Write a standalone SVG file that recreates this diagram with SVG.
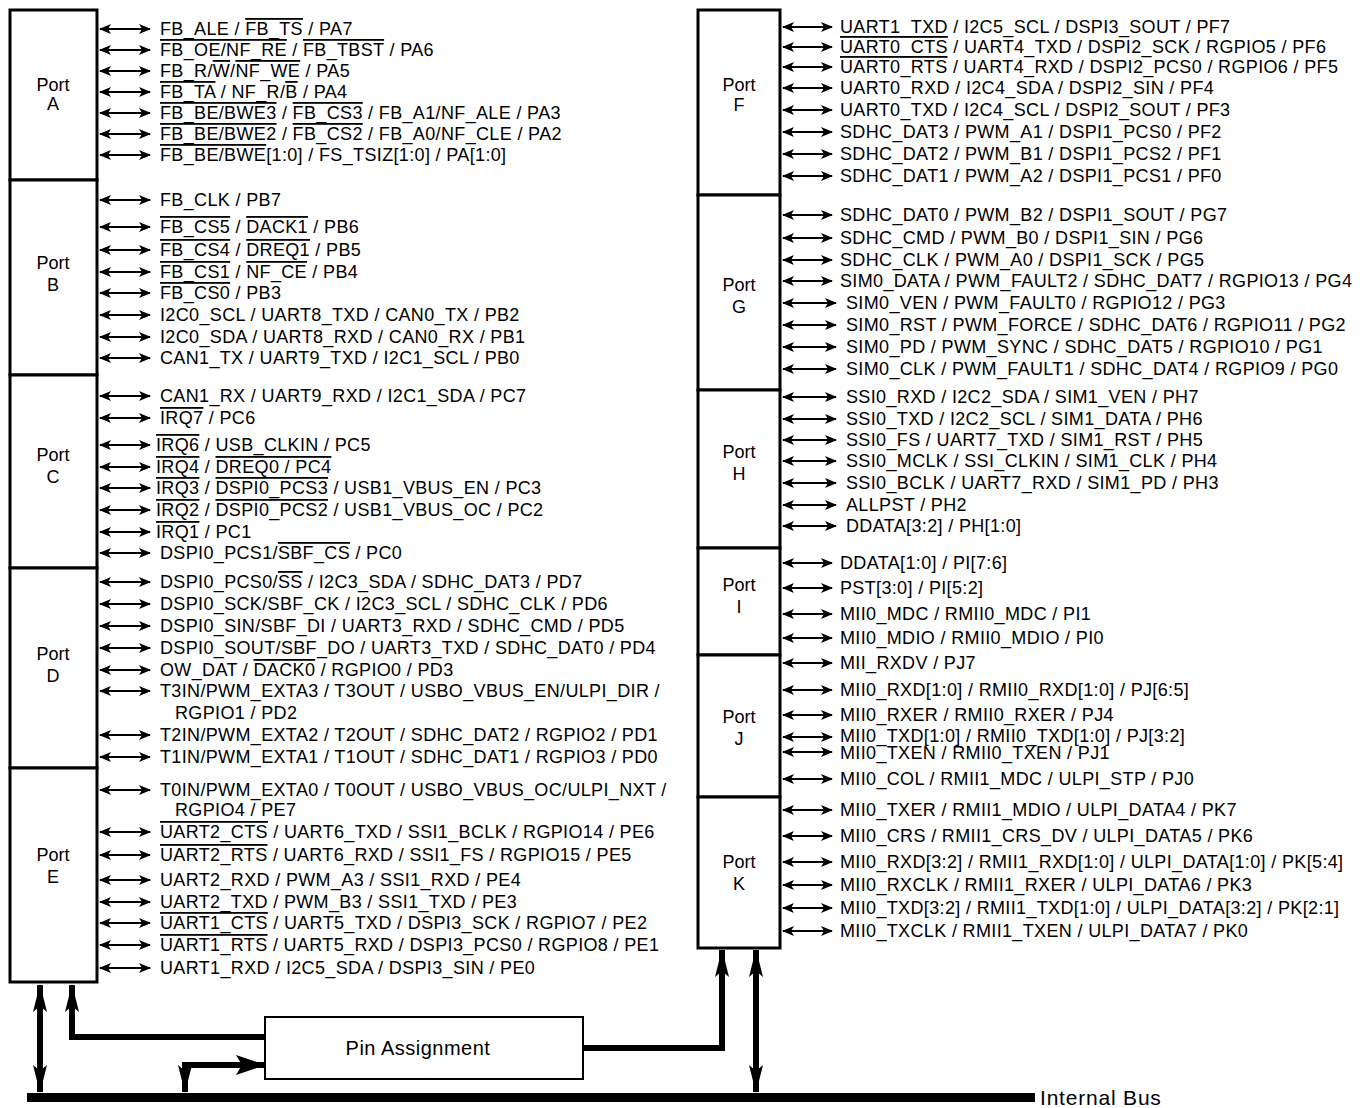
<svg xmlns="http://www.w3.org/2000/svg" width="1360" height="1108" viewBox="0 0 1360 1108">
<style>
text{font-family:"Liberation Sans",Arial,Helvetica,sans-serif;fill:#000}
.t{font-size:18px;letter-spacing:0.35px}
.lb{font-size:18px;text-anchor:middle}
.ov{text-decoration:overline}
.box{fill:#fff;stroke:#000;stroke-width:3}
.pa{stroke:#000;stroke-width:2;fill:none;marker-start:url(#sh);marker-end:url(#sh)}
.big{stroke:#000;stroke-width:6;fill:none}
</style>
<defs>
<marker id="sh" viewBox="0 0 12 10" refX="11" refY="5" markerWidth="12" markerHeight="10" markerUnits="userSpaceOnUse" orient="auto-start-reverse">
<path d="M0,0 L12,5 L0,10 L3,5 Z" fill="#000"/>
</marker>
<marker id="bh" viewBox="0 0 28 14" refX="27" refY="7" markerWidth="28" markerHeight="14" markerUnits="userSpaceOnUse" orient="auto-start-reverse">
<path d="M0,0 L28,7 L0,14 L6,7 Z" fill="#000"/>
</marker>
<marker id="rh" viewBox="0 0 30 20" refX="29" refY="10" markerWidth="30" markerHeight="20" markerUnits="userSpaceOnUse" orient="auto">
<path d="M0,0 L30,10 L0,20 L6,10 Z" fill="#000"/>
</marker>
</defs>
<rect width="1360" height="1108" fill="#fff"/>

<g id="connectors">
<!-- Port A -->
<line class="pa" x1="100" y1="29" x2="150" y2="29"/>
<line class="pa" x1="100" y1="50" x2="150" y2="50"/>
<line class="pa" x1="100" y1="71" x2="150" y2="71"/>
<line class="pa" x1="100" y1="92" x2="150" y2="92"/>
<line class="pa" x1="100" y1="113" x2="150" y2="113"/>
<line class="pa" x1="100" y1="134" x2="150" y2="134"/>
<line class="pa" x1="100" y1="155" x2="150" y2="155"/>
<!-- Port B -->
<line class="pa" x1="100" y1="200" x2="150" y2="200"/>
<line class="pa" x1="100" y1="227" x2="150" y2="227"/>
<line class="pa" x1="100" y1="250" x2="150" y2="250"/>
<line class="pa" x1="100" y1="272" x2="150" y2="272"/>
<line class="pa" x1="100" y1="293" x2="150" y2="293"/>
<line class="pa" x1="100" y1="315" x2="150" y2="315"/>
<line class="pa" x1="100" y1="337" x2="150" y2="337"/>
<line class="pa" x1="100" y1="358" x2="150" y2="358"/>
<!-- Port C -->
<line class="pa" x1="100" y1="396" x2="150" y2="396"/>
<line class="pa" x1="100" y1="418" x2="150" y2="418"/>
<line class="pa" x1="100" y1="445" x2="150" y2="445"/>
<line class="pa" x1="100" y1="467" x2="150" y2="467"/>
<line class="pa" x1="100" y1="488" x2="150" y2="488"/>
<line class="pa" x1="100" y1="510" x2="150" y2="510"/>
<line class="pa" x1="100" y1="532" x2="150" y2="532"/>
<line class="pa" x1="100" y1="553" x2="150" y2="553"/>
<!-- Port D -->
<line class="pa" x1="100" y1="582" x2="150" y2="582"/>
<line class="pa" x1="100" y1="604" x2="150" y2="604"/>
<line class="pa" x1="100" y1="626" x2="150" y2="626"/>
<line class="pa" x1="100" y1="648" x2="150" y2="648"/>
<line class="pa" x1="100" y1="670" x2="150" y2="670"/>
<line class="pa" x1="100" y1="691" x2="150" y2="691"/>
<line class="pa" x1="100" y1="735" x2="150" y2="735"/>
<line class="pa" x1="100" y1="757" x2="150" y2="757"/>
<!-- Port E -->
<line class="pa" x1="100" y1="790" x2="150" y2="790"/>
<line class="pa" x1="100" y1="832" x2="150" y2="832"/>
<line class="pa" x1="100" y1="855" x2="150" y2="855"/>
<line class="pa" x1="100" y1="880" x2="150" y2="880"/>
<line class="pa" x1="100" y1="902" x2="150" y2="902"/>
<line class="pa" x1="100" y1="923" x2="150" y2="923"/>
<line class="pa" x1="100" y1="945" x2="150" y2="945"/>
<line class="pa" x1="100" y1="968" x2="150" y2="968"/>
<!-- Port F -->
<line class="pa" x1="783" y1="27" x2="832" y2="27"/>
<line class="pa" x1="783" y1="47" x2="832" y2="47"/>
<line class="pa" x1="783" y1="67" x2="832" y2="67"/>
<line class="pa" x1="783" y1="88" x2="832" y2="88"/>
<line class="pa" x1="783" y1="110" x2="832" y2="110"/>
<line class="pa" x1="783" y1="132" x2="832" y2="132"/>
<line class="pa" x1="783" y1="154" x2="832" y2="154"/>
<line class="pa" x1="783" y1="176" x2="832" y2="176"/>
<!-- Port G -->
<line class="pa" x1="783" y1="215" x2="832" y2="215"/>
<line class="pa" x1="783" y1="238" x2="832" y2="238"/>
<line class="pa" x1="783" y1="260" x2="832" y2="260"/>
<line class="pa" x1="783" y1="281" x2="832" y2="281"/>
<line class="pa" x1="783" y1="303" x2="836" y2="303"/>
<line class="pa" x1="783" y1="325" x2="836" y2="325"/>
<line class="pa" x1="783" y1="347" x2="836" y2="347"/>
<line class="pa" x1="783" y1="369" x2="836" y2="369"/>
<!-- Port H -->
<line class="pa" x1="783" y1="397" x2="836" y2="397"/>
<line class="pa" x1="783" y1="419" x2="836" y2="419"/>
<line class="pa" x1="783" y1="440" x2="836" y2="440"/>
<line class="pa" x1="783" y1="461" x2="836" y2="461"/>
<line class="pa" x1="783" y1="483" x2="836" y2="483"/>
<line class="pa" x1="783" y1="505" x2="836" y2="505"/>
<line class="pa" x1="783" y1="526" x2="836" y2="526"/>
<!-- Port I -->
<line class="pa" x1="783" y1="563" x2="832" y2="563"/>
<line class="pa" x1="783" y1="588" x2="832" y2="588"/>
<line class="pa" x1="783" y1="614" x2="832" y2="614"/>
<line class="pa" x1="783" y1="638" x2="832" y2="638"/>
<!-- Port J -->
<line class="pa" x1="783" y1="663" x2="832" y2="663"/>
<line class="pa" x1="783" y1="690" x2="832" y2="690"/>
<line class="pa" x1="783" y1="715" x2="832" y2="715"/>
<line class="pa" x1="783" y1="737" x2="832" y2="737"/>
<line class="pa" x1="783" y1="752" x2="832" y2="752"/>
<line class="pa" x1="783" y1="779" x2="832" y2="779"/>
<!-- Port K -->
<line class="pa" x1="783" y1="810" x2="832" y2="810"/>
<line class="pa" x1="783" y1="836" x2="832" y2="836"/>
<line class="pa" x1="783" y1="862" x2="832" y2="862"/>
<line class="pa" x1="783" y1="885" x2="832" y2="885"/>
<line class="pa" x1="783" y1="908" x2="832" y2="908"/>
<line class="pa" x1="783" y1="931" x2="832" y2="931"/>

<!-- bus connections -->
<line class="big" x1="40" y1="985" x2="40" y2="1092" marker-start="url(#bh)" marker-end="url(#bh)"/>
<polyline class="big" points="265,1037 72,1037 72,985" marker-end="url(#bh)"/>
<polyline class="big" points="185,1092 185,1065 265,1065" marker-start="url(#bh)" marker-end="url(#rh)"/>
<polyline class="big" points="584,1048 722,1048 722,950" marker-end="url(#bh)"/>
<line class="big" x1="756" y1="950" x2="756" y2="1092" marker-start="url(#bh)" marker-end="url(#bh)"/>
</g>

<g id="internal-bus">
<rect x="27" y="1093" width="1008" height="9" fill="#000"/>
<text x="1040" y="1105" style="font-size:21px;letter-spacing:0.8px">Internal Bus</text>
</g>

<g id="pin-assignment">
<rect x="265" y="1017" width="318" height="62" fill="#fff" stroke="#000" stroke-width="2"/>
<text class="lb" x="418" y="1055" style="font-size:20px;letter-spacing:0.5px">Pin Assignment</text>
</g>

<g id="port-a">
<rect class="box" x="10" y="10" width="87" height="170"/>
<text class="lb" x="53" y="91">Port</text>
<text class="lb" x="53" y="110">A</text>
<text class="t" x="160" y="35">FB_ALE / <tspan class="ov">FB_TS</tspan> / PA7</text>
<text class="t" x="160" y="56"><tspan class="ov">FB_OE/NF_RE</tspan> / <tspan class="ov">FB_TBST</tspan> / PA6</text>
<text class="t" x="160" y="77">FB_R/<tspan class="ov">W</tspan>/<tspan class="ov">NF_WE</tspan> / PA5</text>
<text class="t" x="160" y="98"><tspan class="ov">FB_TA</tspan> / NF_R/<tspan class="ov">B</tspan> / PA4</text>
<text class="t" x="160" y="119"><tspan class="ov">FB_BE/BWE3</tspan> / <tspan class="ov">FB_CS3</tspan> / FB_A1/NF_ALE / PA3</text>
<text class="t" x="160" y="140"><tspan class="ov">FB_BE/BWE2</tspan> / <tspan class="ov">FB_CS2</tspan> / FB_A0/NF_CLE / PA2</text>
<text class="t" x="160" y="161"><tspan class="ov">FB_BE/BWE</tspan>[1:0] / FS_TSIZ[1:0] / PA[1:0]</text>
</g>

<g id="port-b">
<rect class="box" x="10" y="180" width="87" height="195"/>
<text class="lb" x="53" y="269">Port</text>
<text class="lb" x="53" y="291">B</text>
<text class="t" x="160" y="206">FB_CLK / PB7</text>
<text class="t" x="160" y="233"><tspan class="ov">FB_CS5</tspan> / <tspan class="ov">DACK1</tspan> / PB6</text>
<text class="t" x="160" y="256"><tspan class="ov">FB_CS4</tspan> / <tspan class="ov">DREQ1</tspan> / PB5</text>
<text class="t" x="160" y="278"><tspan class="ov">FB_CS1</tspan> / <tspan class="ov">NF_CE</tspan> / PB4</text>
<text class="t" x="160" y="299"><tspan class="ov">FB_CS0</tspan> / PB3</text>
<text class="t" x="160" y="321">I2C0_SCL / UART8_TXD / CAN0_TX / PB2</text>
<text class="t" x="160" y="343">I2C0_SDA / UART8_RXD / CAN0_RX / PB1</text>
<text class="t" x="160" y="364">CAN1_TX / UART9_TXD / I2C1_SCL / PB0</text>
</g>

<g id="port-c">
<rect class="box" x="10" y="375" width="87" height="193"/>
<text class="lb" x="53" y="461">Port</text>
<text class="lb" x="53" y="483">C</text>
<text class="t" x="160" y="402">CAN1_RX / UART9_RXD / I2C1_SDA / PC7</text>
<text class="t" x="160" y="424"><tspan class="ov">IRQ7</tspan> / PC6</text>
<text class="t" x="156" y="451"><tspan class="ov">IRQ6</tspan> / USB_CLKIN / PC5</text>
<text class="t" x="156" y="473"><tspan class="ov">IRQ4</tspan> / <tspan class="ov">DREQ0 / PC4</tspan></text>
<text class="t" x="156" y="494"><tspan class="ov">IRQ3</tspan> / <tspan class="ov">DSPI0_PCS3</tspan> / USB1_VBUS_EN / PC3</text>
<text class="t" x="156" y="516"><tspan class="ov">IRQ2</tspan> / <tspan class="ov">DSPI0_PCS2</tspan> / USB1_VBUS_OC / PC2</text>
<text class="t" x="156" y="538"><tspan class="ov">IRQ1</tspan> / PC1</text>
<text class="t" x="160" y="559">DSPI0_PCS1/<tspan class="ov">SBF_CS</tspan> / PC0</text>
</g>

<g id="port-d">
<rect class="box" x="10" y="568" width="87" height="200"/>
<text class="lb" x="53" y="660">Port</text>
<text class="lb" x="53" y="682">D</text>
<text class="t" x="160" y="588">DSPI0_PCS0/<tspan class="ov">SS</tspan> / I2C3_SDA / SDHC_DAT3 / PD7</text>
<text class="t" x="160" y="610">DSPI0_SCK/SBF_CK / I2C3_SCL / SDHC_CLK / PD6</text>
<text class="t" x="160" y="632">DSPI0_SIN/SBF_DI / UART3_RXD / SDHC_CMD / PD5</text>
<text class="t" x="160" y="654">DSPI0_SOUT/SBF_DO / UART3_TXD / SDHC_DAT0 / PD4</text>
<text class="t" x="160" y="676">OW_DAT / <tspan class="ov">DACK0</tspan> / RGPIO0 / PD3</text>
<text class="t" x="160" y="697">T3IN/PWM_EXTA3 / T3OUT / USBO_VBUS_EN/ULPI_DIR /</text>
<text class="t" x="175" y="719">RGPIO1 / PD2</text>
<text class="t" x="160" y="741">T2IN/PWM_EXTA2 / T2OUT / SDHC_DAT2 / RGPIO2 / PD1</text>
<text class="t" x="160" y="763">T1IN/PWM_EXTA1 / T1OUT / SDHC_DAT1 / RGPIO3 / PD0</text>
</g>

<g id="port-e">
<rect class="box" x="10" y="768" width="87" height="214"/>
<text class="lb" x="53" y="861">Port</text>
<text class="lb" x="53" y="883">E</text>
<text class="t" x="160" y="796">T0IN/PWM_EXTA0 / T0OUT / USBO_VBUS_OC/ULPI_NXT /</text>
<text class="t" x="175" y="816">RGPIO4 / PE7</text>
<text class="t" x="160" y="838"><tspan class="ov">UART2_CTS</tspan> / UART6_TXD / SSI1_BCLK / RGPIO14 / PE6</text>
<text class="t" x="160" y="861"><tspan class="ov">UART2_RTS</tspan> / UART6_RXD / SSI1_FS / RGPIO15 / PE5</text>
<text class="t" x="160" y="886">UART2_RXD / PWM_A3 / SSI1_RXD / PE4</text>
<text class="t" x="160" y="908">UART2_TXD / PWM_B3 / SSI1_TXD / PE3</text>
<text class="t" x="160" y="929"><tspan class="ov">UART1_CTS</tspan> / UART5_TXD / DSPI3_SCK / RGPIO7 / PE2</text>
<text class="t" x="160" y="951"><tspan class="ov">UART1_RTS</tspan> / UART5_RXD / DSPI3_PCS0 / RGPIO8 / PE1</text>
<text class="t" x="160" y="974">UART1_RXD / I2C5_SDA / DSPI3_SIN / PE0</text>
</g>

<g id="port-f">
<rect class="box" x="698" y="10" width="82" height="185"/>
<text class="lb" x="739" y="91">Port</text>
<text class="lb" x="739" y="111">F</text>
<text class="t" x="840" y="33">UART1_TXD / I2C5_SCL / DSPI3_SOUT / PF7</text>
<text class="t" x="840" y="53"><tspan class="ov">UART0_CTS</tspan> / UART4_TXD / DSPI2_SCK / RGPIO5 / PF6</text>
<text class="t" x="840" y="73"><tspan class="ov">UART0_RTS</tspan> / UART4_RXD / DSPI2_PCS0 / RGPIO6 / PF5</text>
<text class="t" x="840" y="94">UART0_RXD / I2C4_SDA / DSPI2_SIN / PF4</text>
<text class="t" x="840" y="116">UART0_TXD / I2C4_SCL / DSPI2_SOUT / PF3</text>
<text class="t" x="840" y="138">SDHC_DAT3 / PWM_A1 / DSPI1_PCS0 / PF2</text>
<text class="t" x="840" y="160">SDHC_DAT2 / PWM_B1 / DSPI1_PCS2 / PF1</text>
<text class="t" x="840" y="182">SDHC_DAT1 / PWM_A2 / DSPI1_PCS1 / PF0</text>
</g>

<g id="port-g">
<rect class="box" x="698" y="195" width="82" height="195"/>
<text class="lb" x="739" y="291">Port</text>
<text class="lb" x="739" y="313">G</text>
<text class="t" x="840" y="221">SDHC_DAT0 / PWM_B2 / DSPI1_SOUT / PG7</text>
<text class="t" x="840" y="244">SDHC_CMD / PWM_B0 / DSPI1_SIN / PG6</text>
<text class="t" x="840" y="266">SDHC_CLK / PWM_A0 / DSPI1_SCK / PG5</text>
<text class="t" x="840" y="287">SIM0_DATA / PWM_FAULT2 / SDHC_DAT7 / RGPIO13 / PG4</text>
<text class="t" x="846" y="309">SIM0_VEN / PWM_FAULT0 / RGPIO12 / PG3</text>
<text class="t" x="846" y="331">SIM0_RST / PWM_FORCE / SDHC_DAT6 / RGPIO11 / PG2</text>
<text class="t" x="846" y="353">SIM0_PD / PWM_SYNC / SDHC_DAT5 / RGPIO10 / PG1</text>
<text class="t" x="846" y="375">SIM0_CLK / PWM_FAULT1 / SDHC_DAT4 / RGPIO9 / PG0</text>
</g>

<g id="port-h">
<rect class="box" x="698" y="390" width="82" height="158"/>
<text class="lb" x="739" y="458">Port</text>
<text class="lb" x="739" y="480">H</text>
<text class="t" x="846" y="403">SSI0_RXD / I2C2_SDA / SIM1_VEN / PH7</text>
<text class="t" x="846" y="425">SSI0_TXD / I2C2_SCL / SIM1_DATA / PH6</text>
<text class="t" x="846" y="446">SSI0_FS / UART7_TXD / SIM1_RST / PH5</text>
<text class="t" x="846" y="467">SSI0_MCLK / SSI_CLKIN / SIM1_CLK / PH4</text>
<text class="t" x="846" y="489">SSI0_BCLK / UART7_RXD / SIM1_PD / PH3</text>
<text class="t" x="846" y="511">ALLPST / PH2</text>
<text class="t" x="846" y="532">DDATA[3:2] / PH[1:0]</text>
</g>

<g id="port-i">
<rect class="box" x="698" y="548" width="82" height="107"/>
<text class="lb" x="739" y="591">Port</text>
<text class="lb" x="739" y="613">I</text>
<text class="t" x="840" y="569">DDATA[1:0] / PI[7:6]</text>
<text class="t" x="840" y="594">PST[3:0] / PI[5:2]</text>
<text class="t" x="840" y="620">MII0_MDC / RMII0_MDC / PI1</text>
<text class="t" x="840" y="644">MII0_MDIO / RMII0_MDIO / PI0</text>
</g>

<g id="port-j">
<rect class="box" x="698" y="655" width="82" height="142"/>
<text class="lb" x="739" y="723">Port</text>
<text class="lb" x="739" y="745">J</text>
<text class="t" x="840" y="669">MII_RXDV / PJ7</text>
<text class="t" x="840" y="696">MII0_RXD[1:0] / RMII0_RXD[1:0] / PJ[6:5]</text>
<text class="t" x="840" y="721">MII0_RXER / RMII0_RXER / PJ4</text>
<text class="t" x="840" y="742">MII0_TXD[1:0] / RMII0_TXD[1:0] / PJ[3:2]</text>
<text class="t" x="840" y="759">MII0_TXEN / RMII0_TXEN / PJ1</text>
<text class="t" x="840" y="785">MII0_COL / RMII1_MDC / ULPI_STP / PJ0</text>
</g>

<g id="port-k">
<rect class="box" x="698" y="797" width="82" height="151"/>
<text class="lb" x="739" y="868">Port</text>
<text class="lb" x="739" y="890">K</text>
<text class="t" x="840" y="816">MII0_TXER / RMII1_MDIO / ULPI_DATA4 / PK7</text>
<text class="t" x="840" y="842">MII0_CRS / RMII1_CRS_DV / ULPI_DATA5 / PK6</text>
<text class="t" x="840" y="868">MII0_RXD[3:2] / RMII1_RXD[1:0] / ULPI_DATA[1:0] / PK[5:4]</text>
<text class="t" x="840" y="891">MII0_RXCLK / RMII1_RXER / ULPI_DATA6 / PK3</text>
<text class="t" x="840" y="914">MII0_TXD[3:2] / RMII1_TXD[1:0] / ULPI_DATA[3:2] / PK[2:1]</text>
<text class="t" x="840" y="937">MII0_TXCLK / RMII1_TXEN / ULPI_DATA7 / PK0</text>
</g>
</svg>
